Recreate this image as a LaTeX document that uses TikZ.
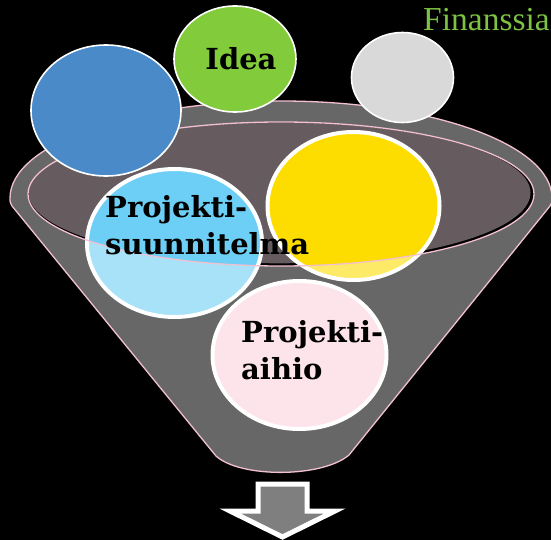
\documentclass[tikz,border=0pt]{standalone}
\usepackage{fontspec}
\setmainfont{DejaVu Serif}
\newfontfamily\finfont{Liberation Serif}
\definecolor{rimpink}{HTML}{F2C0CE}
\definecolor{funnelgray}{HTML}{676767}
\definecolor{innergray}{HTML}{665C5F}
\definecolor{cdarkblue}{HTML}{4A8AC8}
\definecolor{cgreen}{HTML}{82CC3B}
\definecolor{clightgray}{HTML}{D9D9D9}
\definecolor{cyellow}{HTML}{FDDC00}
\definecolor{clightblue}{HTML}{6DCFF6}
\definecolor{cpink}{HTML}{FCE4EA}
\definecolor{fingreen}{HTML}{7DC243}
\definecolor{arrowgray}{HTML}{7F7F7F}
\tikzset{
  bigcirc/.style={draw=white, line width=4pt},
  smallcirc/.style={draw=white, line width=1.6pt},
  label/.style={font=\bfseries\fontsize{29}{37}\selectfont, text=black, inner sep=0pt, align=left},
  rim/.style={draw=rimpink, line width=1.3pt}
}
\begin{document}
\begin{tikzpicture}[x=1pt,y=-1pt]
\useasboundingbox (0,0) rectangle (551,540);
\fill[black] (0,0) rectangle (551,540);
% funnel body
\path[fill=funnelgray, rim]
  (12,206) -- (216,456) .. controls (240,478) and (322,478) .. (349,455)
  -- (550,206) .. controls (552,203) .. (552,198)
  .. controls (552,144.4) and (430.7,101) .. (281,101)
  .. controls (131.3,101) and (10,144.4) .. (10,198)
  .. controls (10,202) .. (12,206) -- cycle;
% inner rim
\fill[black] (281,194) ellipse [x radius=253pt, y radius=72pt];
\fill[innergray] (279.5,192.8) ellipse [x radius=251pt, y radius=70.5pt];
% top circles
\path[fill=cgreen, smallcirc] (235,59) ellipse [x radius=61pt, y radius=53pt];
\path[fill=clightgray, smallcirc] (402.5,77.5) ellipse [x radius=51pt, y radius=45pt];
% big circles
\path[fill=cyellow, bigcirc] (353.5,206) ellipse [x radius=86pt, y radius=74pt];
\path[fill=clightblue, bigcirc] (174.5,243) ellipse [x radius=87.5pt, y radius=74pt];
\path[fill=cpink, bigcirc] (299.5,355) ellipse [x radius=87pt, y radius=74pt];
% lighter front part of the funnel over the circles
\begin{scope}
  \clip (0,194) rectangle (551,540);
  \clip (353.5,206) ellipse [x radius=84pt, y radius=72pt]
        (174.5,243) ellipse [x radius=85.5pt, y radius=72pt];
  \fill[white, opacity=0.4, even odd rule] (0,0) rectangle (551,540)
        (281,194) ellipse [x radius=253pt, y radius=72pt];
\end{scope}
\draw[rim] (281,194) ellipse [x radius=253pt, y radius=72pt];
% dark blue circle over the rim
\path[fill=cdarkblue, smallcirc] (106,110.5) ellipse [x radius=75pt, y radius=65.5pt];
% texts
\node[label, anchor=base] (idea) at (241,70) {Idea};
\node[label, anchor=base west] (suunn) at (105,254) {Projekti-\\suunnitelma};
\node[label, anchor=base west] (aihio) at (241,379) {Projekti-\\aihio};
\node[font=\finfont\fontsize{33.5}{40}\selectfont, text=fingreen, anchor=base west, inner sep=0pt] (fin) at (423,31) {Finanssia};
% arrow
\path[fill=arrowgray, draw=white, line width=5pt, line join=miter]
  (258,484) -- (307,484) -- (307,511) -- (335,511) -- (282.5,537)
  -- (230,511) -- (258,511) -- cycle;
\end{tikzpicture}
\end{document}
